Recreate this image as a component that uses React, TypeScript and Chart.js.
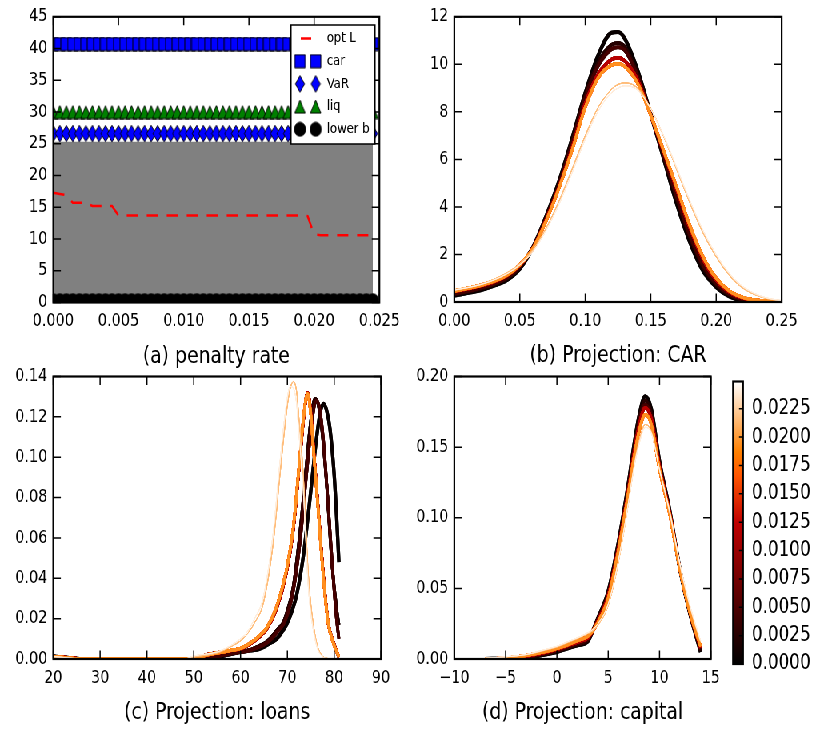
import React, { useEffect, useRef } from 'react';
import { Chart, registerables } from 'chart.js';

Chart.register(...registerables);

const FONT = "'DejaVu Sans', 'Noto Sans', sans-serif";
const SQUEEZE = 0.8;

// ---------------- panel (a): penalty rate ----------------
const RATES = [
  0.0000, 0.0005, 0.0010, 0.0015, 0.0020, 0.0025, 0.0030, 0.0035, 0.0040, 0.0045,
  0.0050, 0.0055, 0.0060, 0.0065, 0.0070, 0.0075, 0.0080, 0.0085, 0.0090, 0.0095,
  0.0100, 0.0105, 0.0110, 0.0115, 0.0120, 0.0125, 0.0130, 0.0135, 0.0140, 0.0145,
  0.0150, 0.0155, 0.0160, 0.0165, 0.0170, 0.0175, 0.0180, 0.0185, 0.0190, 0.0195,
  0.0200, 0.0205, 0.0210, 0.0215, 0.0220, 0.0225, 0.0230, 0.0235, 0.0240, 0.0245,
];
const OPT_L = [
  17.3, 17.1, 16.9, 15.7, 15.7, 15.7, 15.2, 15.2, 15.2, 15.2,
  13.7, 13.7, 13.7, 13.7, 13.7, 13.7, 13.7, 13.7, 13.7, 13.7,
  13.7, 13.7, 13.7, 13.7, 13.7, 13.7, 13.7, 13.7, 13.7, 13.7,
  13.7, 13.7, 13.7, 13.7, 13.7, 13.7, 13.7, 13.7, 13.7, 13.6,
  10.7, 10.6, 10.6, 10.6, 10.6, 10.6, 10.6, 10.6, 10.6, 10.6,
];
const CAR = [
  40.7, 40.7, 40.7, 40.7, 40.7, 40.7, 40.7, 40.7, 40.7, 40.7,
  40.7, 40.7, 40.7, 40.7, 40.7, 40.7, 40.7, 40.7, 40.7, 40.7,
  40.7, 40.7, 40.7, 40.7, 40.7, 40.7, 40.7, 40.7, 40.7, 40.7,
  40.7, 40.7, 40.7, 40.7, 40.7, 40.7, 40.7, 40.7, 40.7, 40.7,
  40.7, 40.7, 40.7, 40.7, 40.7, 40.7, 40.7, 40.7, 40.7, 40.7,
];
const VAR = [
  26.6, 26.6, 26.6, 26.6, 26.6, 26.6, 26.6, 26.6, 26.6, 26.6,
  26.6, 26.6, 26.6, 26.6, 26.6, 26.6, 26.6, 26.6, 26.6, 26.6,
  26.6, 26.6, 26.6, 26.6, 26.6, 26.6, 26.6, 26.6, 26.6, 26.6,
  26.6, 26.6, 26.6, 26.6, 26.6, 26.6, 26.6, 26.6, 26.6, 26.6,
  26.6, 26.6, 26.6, 26.6, 26.6, 26.6, 26.6, 26.6, 26.6, 26.6,
];
const LIQ = [
  30.0, 30.0, 30.0, 30.0, 30.0, 30.0, 30.0, 30.0, 30.0, 30.0,
  30.0, 30.0, 30.0, 30.0, 30.0, 30.0, 30.0, 30.0, 30.0, 30.0,
  30.0, 30.0, 30.0, 30.0, 30.0, 30.0, 30.0, 30.0, 30.0, 30.0,
  30.0, 30.0, 30.0, 30.0, 30.0, 30.0, 30.0, 30.0, 30.0, 30.0,
  30.0, 30.0, 30.0, 30.0, 30.0, 30.0, 30.0, 30.0, 30.0, 30.0,
];
const LOWER_B = [
  0.3, 0.3, 0.3, 0.3, 0.3, 0.3, 0.3, 0.3, 0.3, 0.3,
  0.3, 0.3, 0.3, 0.3, 0.3, 0.3, 0.3, 0.3, 0.3, 0.3,
  0.3, 0.3, 0.3, 0.3, 0.3, 0.3, 0.3, 0.3, 0.3, 0.3,
  0.3, 0.3, 0.3, 0.3, 0.3, 0.3, 0.3, 0.3, 0.3, 0.3,
  0.3, 0.3, 0.3, 0.3, 0.3, 0.3, 0.3, 0.3, 0.3, 0.3,
];
const FEASIBLE_TOP = [
  25.3, 25.3, 25.3, 25.3, 25.3, 25.3, 25.3, 25.3, 25.3, 25.3,
  25.3, 25.3, 25.3, 25.3, 25.3, 25.3, 25.3, 25.3, 25.3, 25.3,
  25.3, 25.3, 25.3, 25.3, 25.3, 25.3, 25.3, 25.3, 25.3, 25.3,
  25.3, 25.3, 25.3, 25.3, 25.3, 25.3, 25.3, 25.3, 25.3, 25.3,
  25.3, 25.3, 25.3, 25.3, 25.3, 25.3, 25.3, 25.3, 25.3, 25.3,
];
const SERIES_LABELS = ['opt L', 'car', 'VaR', 'liq', 'lower b'];
const A_X_TICKS = [0, 0.005, 0.01, 0.015, 0.02, 0.025];
const A_Y_TICKS = [0, 5, 10, 15, 20, 25, 30, 35, 40, 45];
const TITLES = ['(a) penalty rate', '(b) Projection: CAR', '(c) Projection: loans', '(d) Projection: capital'];

// which projected curve each penalty rate produced
const GROUP_OF_RATE = [
  0, 0, 1, 1, 1, 1, 2, 2, 2, 2,
  3, 3, 3, 3, 3, 3, 3, 3, 3, 3,
  3, 3, 3, 3, 3, 4, 4, 4, 4, 4,
  4, 4, 4, 4, 4, 4, 4, 4, 4, 4,
  5, 5, 5, 5, 5, 6, 6, 6, 6, 6,
];
const GROUP_WIDTH = [4.2, 3.6, 3.6, 3.4, 3.2, 0.85, 0.65];

// ---------------- panel (b): CAR ----------------
const CAR_X = [0, 0.01, 0.02, 0.03, 0.04, 0.05, 0.06, 0.07, 0.08, 0.09, 0.10, 0.11, 0.12, 0.125, 0.13, 0.14, 0.15, 0.16, 0.17, 0.18, 0.19, 0.20, 0.21, 0.22, 0.23, 0.24, 0.25];
const CAR_G1 = [0.28, 0.38, 0.5, 0.68, 0.92, 1.4, 2.3, 3.6, 5.1, 6.9, 8.8, 10.4, 11.33, 11.36, 11.1, 9.75, 7.9, 6.0, 4.1, 2.5, 1.3, 0.63, 0.24, 0.07, 0.01, 0, 0];
const CAR_G2 = [0.33, 0.43, 0.56, 0.74, 0.98, 1.45, 2.3, 3.55, 5.0, 6.8, 8.7, 10.1, 10.82, 10.9, 10.75, 9.6, 7.9, 6.1, 4.3, 2.7, 1.45, 0.72, 0.3, 0.1, 0.03, 0, 0];
const CAR_G3 = [0.36, 0.46, 0.6, 0.77, 1.02, 1.5, 2.3, 3.5, 4.95, 6.7, 8.6, 9.95, 10.64, 10.72, 10.6, 9.5, 7.9, 6.15, 4.4, 2.8, 1.55, 0.78, 0.34, 0.12, 0.04, 0.01, 0];
const CAR_G4A = [0.45, 0.55, 0.68, 0.85, 1.1, 1.55, 2.25, 3.45, 4.85, 6.5, 8.35, 9.6, 10.2, 10.28, 10.15, 9.35, 7.86, 6.3, 4.7, 3.1, 1.8, 0.92, 0.42, 0.17, 0.07, 0.02, 0];
const CAR_G4B = [0.47, 0.57, 0.7, 0.87, 1.12, 1.57, 2.25, 3.4, 4.8, 6.4, 8.2, 9.45, 9.97, 10.02, 9.92, 9.2, 7.86, 6.35, 4.8, 3.2, 1.9, 1.0, 0.47, 0.2, 0.08, 0.03, 0.01];
const CAR_G5A = [0.52, 0.62, 0.75, 0.95, 1.22, 1.62, 2.2, 3.1, 4.25, 5.6, 7.0, 8.2, 8.95, 9.15, 9.22, 9.0, 8.15, 6.95, 5.55, 4.15, 2.9, 1.9, 1.12, 0.6, 0.3, 0.13, 0.05];
const CAR_G5B = [0.5, 0.6, 0.73, 0.92, 1.18, 1.56, 2.12, 3.0, 4.12, 5.45, 6.85, 8.05, 8.8, 9.0, 9.1, 8.92, 8.12, 6.98, 5.62, 4.25, 3.0, 2.0, 1.2, 0.66, 0.34, 0.15, 0.06];
const B_X_TICKS = [0, 0.05, 0.1, 0.15, 0.2, 0.25];
const B_Y_TICKS = [0, 2, 4, 6, 8, 10, 12];

// ---------------- panel (c): loans ----------------
const LOANS_X_G1 = [20, 23, 26, 52, 55, 58, 60, 62, 64, 66, 67.7, 69, 69.8, 71, 72, 73.4, 74.8, 76.2, 77, 77.7, 78.4, 79.1, 80, 80.5, 81];
const LOANS_Y_G1 = [0.0012, 0.0006, 0, 0, 0.001, 0.0025, 0.0035, 0.0042, 0.005, 0.0075, 0.010, 0.014, 0.017, 0.024, 0.032, 0.051, 0.079, 0.109, 0.122, 0.1265, 0.123, 0.114, 0.091, 0.071, 0.048];
const LOANS_X_G2 = [20, 23, 26, 52, 55, 58, 60, 62, 64, 65.6, 67, 68, 69.1, 70, 71.2, 72.7, 74.1, 75, 75.9, 76.6, 77.4, 78.4, 79.5, 80.5, 81];
const LOANS_Y_G2 = [0.0012, 0.0006, 0, 0, 0.0015, 0.003, 0.0036, 0.0045, 0.0065, 0.0085, 0.012, 0.015, 0.018, 0.024, 0.035, 0.063, 0.097, 0.118, 0.129, 0.126, 0.113, 0.086, 0.048, 0.025, 0.017];
const LOANS_X_G3 = [20, 23, 26, 52, 55, 58, 60, 62, 64, 65.6, 67, 68, 69.1, 70, 71.2, 72.7, 74.1, 75.2, 76.2, 76.9, 77.7, 78.6, 79.7, 80.5, 81];
const LOANS_Y_G3 = [0.0012, 0.0006, 0, 0, 0.0013, 0.0028, 0.0035, 0.0044, 0.006, 0.008, 0.011, 0.014, 0.017, 0.022, 0.033, 0.058, 0.092, 0.117, 0.128, 0.124, 0.108, 0.080, 0.043, 0.020, 0.010];
const LOANS_X_G4 = [20, 23, 26, 50, 52.7, 55, 58.4, 60, 62.7, 64, 65.6, 67.7, 69.8, 71.2, 72.7, 73.5, 74.3, 75, 75.5, 76.6, 77.7, 78.7, 79.8, 81];
const LOANS_Y_G4A = [0.0012, 0.0006, 0, 0, 0.002, 0.003, 0.0044, 0.005, 0.0085, 0.011, 0.015, 0.025, 0.043, 0.063, 0.100, 0.120, 0.132, 0.122, 0.107, 0.074, 0.041, 0.018, 0.0085, 0.001];
const LOANS_Y_G4B = [0.0012, 0.0006, 0, 0, 0.002, 0.003, 0.0045, 0.0052, 0.0088, 0.0115, 0.0155, 0.026, 0.044, 0.064, 0.101, 0.121, 0.1315, 0.121, 0.106, 0.073, 0.040, 0.018, 0.008, 0.001];
const LOANS_X_G5 = [20, 23, 26, 48, 50, 55, 57.8, 60, 61.3, 63, 64.9, 67, 68.4, 69.9, 70.6, 71.3, 72, 72.3, 73.4, 74.5, 75.9, 77.3, 79];
const LOANS_Y_G5A = [0.0012, 0.0006, 0, 0, 0.001, 0.003, 0.006, 0.009, 0.012, 0.018, 0.028, 0.058, 0.091, 0.124, 0.134, 0.1375, 0.132, 0.124, 0.091, 0.041, 0.012, 0.002, 0];
const LOANS_Y_G5B = [0.0012, 0.0006, 0, 0, 0.0015, 0.0035, 0.0065, 0.010, 0.013, 0.020, 0.031, 0.063, 0.097, 0.128, 0.135, 0.134, 0.126, 0.117, 0.083, 0.035, 0.010, 0.0015, 0];
const C_X_TICKS = [20, 30, 40, 50, 60, 70, 80, 90];
const C_Y_TICKS = [0, 0.02, 0.04, 0.06, 0.08, 0.10, 0.12, 0.14];

// ---------------- panel (d): capital ----------------
const CAP_X = [-7, -5, -3, -1, 0, 1, 2, 3, 3.5, 4, 5, 6, 7, 7.5, 8, 8.6, 9.2, 10, 11, 12, 13, 14];
const CAP_G1 = [0, 0.0002, 0.001, 0.0035, 0.005, 0.0075, 0.0098, 0.0125, 0.02, 0.029, 0.048, 0.083, 0.126, 0.151, 0.172, 0.186, 0.177, 0.140, 0.105, 0.063, 0.031, 0.005];
const CAP_G2 = [0, 0.0003, 0.0012, 0.0038, 0.0055, 0.008, 0.0103, 0.013, 0.02, 0.029, 0.047, 0.082, 0.125, 0.149, 0.170, 0.183, 0.174, 0.139, 0.104, 0.063, 0.031, 0.006];
const CAP_G3 = [0, 0.0004, 0.0015, 0.0042, 0.006, 0.0085, 0.011, 0.014, 0.02, 0.028, 0.046, 0.080, 0.123, 0.147, 0.168, 0.180, 0.172, 0.138, 0.104, 0.063, 0.031, 0.007];
const CAP_G4A = [0, 0.0005, 0.002, 0.005, 0.007, 0.0095, 0.012, 0.015, 0.02, 0.027, 0.045, 0.079, 0.121, 0.145, 0.165, 0.178, 0.170, 0.136, 0.103, 0.063, 0.032, 0.008];
const CAP_G4B = [0, 0.0006, 0.0025, 0.0055, 0.0075, 0.010, 0.013, 0.016, 0.02, 0.026, 0.043, 0.077, 0.119, 0.142, 0.161, 0.173, 0.166, 0.134, 0.102, 0.063, 0.032, 0.009];
const CAP_G5A = [0.0005, 0.0015, 0.003, 0.0065, 0.0085, 0.0115, 0.0145, 0.018, 0.02, 0.024, 0.038, 0.069, 0.112, 0.136, 0.154, 0.166, 0.161, 0.134, 0.103, 0.066, 0.036, 0.012];
const CAP_G5B = [0.0005, 0.0016, 0.0032, 0.007, 0.009, 0.012, 0.015, 0.0185, 0.021, 0.025, 0.039, 0.070, 0.112, 0.135, 0.152, 0.164, 0.160, 0.134, 0.104, 0.067, 0.037, 0.013];
const D_X_TICKS = [-10, -5, 0, 5, 10, 15];
const D_Y_TICKS = [0, 0.05, 0.10, 0.15, 0.20];

// ---------------- colour bar ----------------
const CB_MAX = 0.0249;
const CB_TICKS = [0, 0.0025, 0.005, 0.0075, 0.01, 0.0125, 0.015, 0.0175, 0.02, 0.0225];

// gist_heat colour map
function heat(t: number) {
  const c = (v: number) => Math.round(255 * Math.max(0, Math.min(1, v)));
  return `rgb(${c(1.5 * t)},${c(2 * t - 1)},${c(4 * t - 3)})`;
}

function makeMarker(kind: string, w: number, h: number, fill: string) {
  const c = document.createElement('canvas');
  c.width = Math.ceil(w) + 2;
  c.height = Math.ceil(h) + 2;
  const g = c.getContext('2d') as CanvasRenderingContext2D;
  const cx = c.width / 2, cy = c.height / 2;
  g.fillStyle = fill;
  g.strokeStyle = '#000';
  g.lineWidth = 1;
  g.beginPath();
  if (kind === 'square') g.rect(cx - w / 2, cy - h / 2, w, h);
  else if (kind === 'diamond') {
    g.moveTo(cx, cy - h / 2); g.lineTo(cx + w / 2, cy); g.lineTo(cx, cy + h / 2); g.lineTo(cx - w / 2, cy); g.closePath();
  } else if (kind === 'triangle') {
    g.moveTo(cx, cy - h / 2); g.lineTo(cx + w / 2, cy + h / 2); g.lineTo(cx - w / 2, cy + h / 2); g.closePath();
  } else g.ellipse(cx, cy, w / 2, h / 2, 0, 0, Math.PI * 2);
  g.fill();
  g.stroke();
  return c;
}

function makeDeco(legendMarkers?: any[]) {
  return {
    id: 'deco',
    afterDatasetsDraw(chart: any, _a: any, opts: any) {
      const ctx = chart.ctx;
      const a = chart.chartArea;
      ctx.save();
      ctx.strokeStyle = '#000';
      ctx.lineWidth = 1.5;
      ctx.beginPath();
      if (opts.xTicks) {
        const xs = chart.scales.x;
        for (const t of xs.ticks) {
          const p = xs.getPixelForValue(t.value);
          ctx.moveTo(p, a.bottom); ctx.lineTo(p, a.bottom - 8.5);
          ctx.moveTo(p, a.top); ctx.lineTo(p, a.top + 8.5);
        }
      }
      const ys = chart.scales.y;
      for (const t of ys.ticks) {
        const p = ys.getPixelForValue(t.value);
        if (opts.yLeft) { ctx.moveTo(a.left, p); ctx.lineTo(a.left + opts.yLen, p); }
        if (opts.yRight) { ctx.moveTo(a.right, p); ctx.lineTo(a.right - opts.yLen, p); }
      }
      ctx.stroke();
      ctx.lineWidth = 2.2;
      ctx.strokeRect(a.left, a.top, a.right - a.left, a.bottom - a.top);
      if (legendMarkers) {
        const bx = 363.75, by = 25, bw = 105, bh = 119;
        ctx.fillStyle = '#fff';
        ctx.fillRect(bx, by, bw, bh);
        ctx.lineWidth = 1.5;
        ctx.strokeRect(bx, by, bw, bh);
        ctx.font = `14.5px ${FONT}`;
        ctx.textAlign = 'left';
        ctx.textBaseline = 'middle';
        SERIES_LABELS.forEach((label, i) => {
          const y = by + 13.5 + i * 22.7;
          if (i === 0) {
            ctx.strokeStyle = '#ff0000';
            ctx.lineWidth = 2.5;
            ctx.beginPath(); ctx.moveTo(376, y); ctx.lineTo(389, y); ctx.stroke();
          } else {
            const m = legendMarkers[i - 1];
            for (const mx of [375, 394.6]) ctx.drawImage(m, mx - m.width / 2, y - m.height / 2);
          }
          ctx.fillStyle = '#000';
          ctx.fillText(label, 408.5, y);
        });
      }
      ctx.restore();
    },
  };
}

function xAxis(min: number, max: number, ticks: number[], fmt: (v: number) => string, title: string, height: number) {
  return {
    type: 'linear', position: 'bottom', min, max,
    afterBuildTicks: (s: any) => { s.ticks = ticks.map((v) => ({ value: v })); },
    afterFit: (s: any) => { s.height = height; },
    grid: { display: false, drawTicks: false },
    border: { display: false },
    ticks: { autoSkip: false, maxRotation: 0, minRotation: 0, padding: 10, color: '#000', font: { family: FONT, size: 18, lineHeight: 1 }, callback: (v: any) => fmt(Number(v)) },
    title: { display: true, text: title, color: '#000', font: { family: FONT, size: 23.5, lineHeight: 1 }, padding: { top: 0, bottom: height - 54 - 11.75 } },
  };
}

function yAxis(min: number, max: number, ticks: number[], fmt: (v: number) => string, width: number) {
  return {
    type: 'linear', position: 'left', min, max,
    afterBuildTicks: (s: any) => { s.ticks = ticks.map((v) => ({ value: v })); },
    afterFit: (s: any) => { s.width = width; },
    grid: { display: false, drawTicks: false },
    border: { display: false },
    ticks: { autoSkip: false, padding: 7.5, color: '#000', font: { family: FONT, size: 18, lineHeight: 1 }, callback: (v: any) => fmt(Number(v)) },
  };
}

function baseOptions(padding: any, scales: any, deco: any) {
  return {
    responsive: false,
    animation: false,
    events: [],
    layout: { padding, autoPadding: false },
    scales,
    plugins: { legend: { display: false }, tooltip: { enabled: false }, deco },
  };
}

function curveSets(xs: number[][], ys: number[][]) {
  return RATES.map((r, i) => {
    const g = GROUP_OF_RATE[i];
    return {
      data: xs[g].map((x, k) => ({ x, y: ys[g][k] })),
      borderColor: heat(r / CB_MAX),
      borderWidth: GROUP_WIDTH[g],
      pointRadius: 0,
      fill: false,
      cubicInterpolationMode: 'monotone',
      clip: 0,
      order: RATES.length - i,
    };
  });
}

const fix = (n: number) => (v: number) => v.toFixed(n);
const minus = (v: number) => (v < 0 ? '\u2212' + Math.abs(v) : String(v));

export default function App() {
  const refA = useRef<HTMLCanvasElement>(null);
  const refB = useRef<HTMLCanvasElement>(null);
  const refC = useRef<HTMLCanvasElement>(null);
  const refD = useRef<HTMLCanvasElement>(null);
  const refCB = useRef<HTMLCanvasElement>(null);

  useEffect(() => {
    const sq = makeMarker('square', 13, 13, '#0000ff');
    const dm = makeMarker('diamond', 11.5, 16.5, '#0000ff');
    const tr = makeMarker('triangle', 13, 13, '#008000');
    const ci = makeMarker('circle', 14, 14, '#000000');
    const pts = (ys: number[]) => RATES.map((x, i) => ({ x, y: ys[i] }));
    const markerSet = (label: string, ys: number[], style: any, order: number) => ({
      label, data: pts(ys), showLine: false, pointStyle: style, pointRadius: 7, borderWidth: 0, clip: 0, order,
    });

    const charts: Chart[] = [];
    charts.push(new Chart(refA.current as HTMLCanvasElement, {
      type: 'line',
      data: {
        datasets: [
          { label: 'feasible', data: pts(FEASIBLE_TOP), fill: 'origin', backgroundColor: '#808080', borderColor: 'rgba(0,0,0,0)', borderWidth: 0, pointRadius: 0, clip: 0, order: 10 },
          markerSet(SERIES_LABELS[1], CAR, sq, 5),
          markerSet(SERIES_LABELS[2], VAR, dm, 4),
          markerSet(SERIES_LABELS[3], LIQ, tr, 3),
          markerSet(SERIES_LABELS[4], LOWER_B, ci, 2),
          { label: SERIES_LABELS[0], data: pts(OPT_L), borderColor: '#ff0000', borderWidth: 2.5, borderDash: [14, 11], pointRadius: 0, fill: false, tension: 0, clip: 0, order: 1 },
        ],
      },
      options: baseOptions(
        { left: 0, top: 16.8, right: 33.7, bottom: 0 },
        { x: xAxis(0, 0.025, A_X_TICKS, fix(3), TITLES[0], 72.5), y: yAxis(0, 45, A_Y_TICKS, (v) => String(v), 66.6) },
        { xTicks: true, yLeft: true, yRight: true, yLen: 9.5 },
      ),
      plugins: [makeDeco([sq, dm, tr, ci])],
    } as any));

    charts.push(new Chart(refB.current as HTMLCanvasElement, {
      type: 'line',
      data: { datasets: curveSets([CAR_X, CAR_X, CAR_X, CAR_X, CAR_X, CAR_X, CAR_X], [CAR_G1, CAR_G2, CAR_G3, CAR_G4A, CAR_G4B, CAR_G5A, CAR_G5B]) },
      options: baseOptions(
        { left: 0, top: 16.8, right: 42.9, bottom: 0 },
        { x: xAxis(0, 0.25, B_X_TICKS, fix(2), TITLES[1], 73), y: yAxis(0, 12, B_Y_TICKS, (v) => String(v), 67.9) },
        { xTicks: true, yLeft: true, yRight: true, yLen: 9.5 },
      ),
      plugins: [makeDeco()],
    } as any));

    charts.push(new Chart(refC.current as HTMLCanvasElement, {
      type: 'line',
      data: { datasets: curveSets(
        [LOANS_X_G1, LOANS_X_G2, LOANS_X_G3, LOANS_X_G4, LOANS_X_G4, LOANS_X_G5, LOANS_X_G5],
        [LOANS_Y_G1, LOANS_Y_G2, LOANS_Y_G3, LOANS_Y_G4A, LOANS_Y_G4B, LOANS_Y_G5A, LOANS_Y_G5B]) },
      options: baseOptions(
        { left: 0, top: 15, right: 33.7, bottom: 0 },
        { x: xAxis(20, 90, C_X_TICKS, (v) => String(v), TITLES[2], 74), y: yAxis(0, 0.14, C_Y_TICKS, fix(2), 66.6) },
        { xTicks: true, yLeft: true, yRight: true, yLen: 9.5 },
      ),
      plugins: [makeDeco()],
    } as any));

    charts.push(new Chart(refD.current as HTMLCanvasElement, {
      type: 'line',
      data: { datasets: curveSets([CAP_X, CAP_X, CAP_X, CAP_X, CAP_X, CAP_X, CAP_X], [CAP_G1, CAP_G2, CAP_G3, CAP_G4A, CAP_G4B, CAP_G5A, CAP_G5B]) },
      options: baseOptions(
        { left: 0, top: 15, right: 14.1, bottom: 0 },
        { x: xAxis(-10, 15, D_X_TICKS, minus, TITLES[3], 74), y: yAxis(0, 0.2, D_Y_TICKS, fix(2), 67.9) },
        { xTicks: true, yLeft: true, yRight: true, yLen: 9.5 },
      ),
      plugins: [makeDeco()],
    } as any));

    charts.push(new Chart(refCB.current as HTMLCanvasElement, {
      type: 'bar',
      data: {
        labels: [''],
        datasets: [{
          data: [[0, CB_MAX]],
          borderWidth: 0,
          barPercentage: 1,
          categoryPercentage: 1,
          inflateAmount: 0,
          backgroundColor: (c: any) => {
            const ca = c.chart.chartArea;
            if (!ca) return '#000';
            const g = c.chart.ctx.createLinearGradient(0, ca.bottom, 0, ca.top);
            for (const s of [0, 0.5, 2 / 3, 0.75, 1]) g.addColorStop(s, heat(s));
            return g;
          },
        }],
      },
      options: baseOptions(
        { left: 6.3, top: 15, right: 0, bottom: 69 },
        {
          x: { type: 'category', display: false },
          y: {
            type: 'linear', position: 'right', min: 0, max: CB_MAX,
            afterBuildTicks: (s: any) => { s.ticks = CB_TICKS.map((v) => ({ value: v })); },
            afterFit: (s: any) => { s.width = 94.2; },
            grid: { display: false, drawTicks: false },
            border: { display: false },
            ticks: { autoSkip: false, padding: 11, color: '#000', font: { family: FONT, size: 21, lineHeight: 1 }, callback: (v: any) => Number(v).toFixed(4) },
          },
        },
        { xTicks: false, yLeft: false, yRight: true, yLen: 5 },
      ),
      plugins: [makeDeco()],
    } as any));

    return () => charts.forEach((c) => c.destroy());
  }, []);

  const pos = (left: number, top: number) => ({ position: 'absolute' as const, left, top });
  return (
    <div style={{ position: 'absolute', left: 0, top: 0, width: 1023, height: 733, background: '#fff', overflow: 'hidden', transform: `scaleX(${SQUEEZE})`, transformOrigin: '0 0' }}>
      <canvas ref={refA} width={510} height={375} style={pos(0, 0)} />
      <canvas ref={refB} width={520} height={375} style={pos(500, 0)} />
      <canvas ref={refC} width={510} height={373} style={pos(0, 360)} />
      <canvas ref={refD} width={410} height={373} style={pos(500, 360)} />
      <canvas ref={refCB} width={113} height={373} style={pos(910, 360)} />
    </div>
  );
}
